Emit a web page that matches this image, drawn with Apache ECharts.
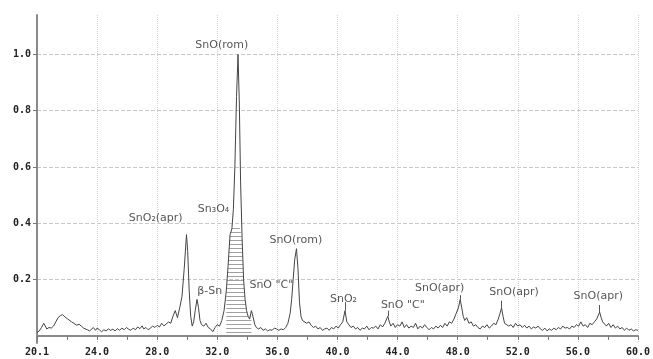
<!DOCTYPE html>
<html><head><meta charset="utf-8">
<script src="https://cdn.jsdelivr.net/npm/echarts@6/dist/echarts.min.js"></script>
<style>html,body{margin:0;padding:0;background:#fff}#c{width:653px;height:359px}</style>
</head><body><div id="c"></div>
<script>
// 2-theta (deg)
const twoTheta = [20.0,20.15,20.3,20.45,20.55,20.65,20.8,20.95,21.1,21.25,21.4,21.55,21.7,21.85,21.95,22.05,22.15,22.3,22.45,22.55,22.65,22.8,22.95,23.1,23.2,23.35,23.5,23.6,23.75,23.9,24.0,24.15,24.3,24.45,24.6,24.75,24.9,25.05,25.2,25.35,25.5,25.65,25.8,25.95,26.1,26.25,26.4,26.55,26.7,26.85,27.0,27.1,27.25,27.4,27.55,27.7,27.85,28.0,28.15,28.3,28.45,28.6,28.75,28.9,29.05,29.2,29.35,29.5,29.65,29.8,29.95,30.03,30.13,30.23,30.33,30.43,30.53,30.65,30.75,30.85,30.95,31.1,31.25,31.4,31.55,31.7,31.85,32.0,32.15,32.3,32.45,32.6,32.72,32.85,32.97,33.07,33.17,33.28,33.38,33.47,33.55,33.65,33.75,33.85,33.95,34.05,34.15,34.27,34.37,34.5,34.6,34.75,34.9,35.05,35.2,35.35,35.5,35.65,35.8,35.95,36.1,36.25,36.4,36.55,36.7,36.85,36.95,37.05,37.15,37.27,37.37,37.47,37.57,37.67,37.8,37.95,38.1,38.25,38.4,38.55,38.7,38.85,39.0,39.15,39.3,39.45,39.6,39.75,39.9,40.05,40.2,40.35,40.5,40.62,40.75,40.9,41.05,41.2,41.35,41.5,41.65,41.8,41.95,42.1,42.25,42.4,42.55,42.7,42.85,43.0,43.15,43.35,43.45,43.55,43.7,43.85,44.0,44.15,44.3,44.45,44.6,44.75,44.9,45.05,45.2,45.35,45.5,45.65,45.8,45.95,46.1,46.25,46.4,46.55,46.7,46.85,47.0,47.15,47.3,47.45,47.6,47.75,47.9,48.05,48.17,48.27,48.37,48.47,48.6,48.75,48.9,49.05,49.2,49.35,49.5,49.65,49.8,49.95,50.1,50.25,50.4,50.55,50.7,50.82,50.92,51.02,51.12,51.25,51.4,51.55,51.7,51.85,52.0,52.15,52.3,52.45,52.6,52.75,52.9,53.05,53.2,53.35,53.5,53.65,53.8,53.95,54.1,54.25,54.4,54.55,54.7,54.85,55.0,55.15,55.3,55.45,55.6,55.75,55.9,56.05,56.2,56.35,56.5,56.65,56.8,56.95,57.1,57.25,57.45,57.55,57.65,57.75,57.9,58.05,58.2,58.35,58.5,58.65,58.8,58.95,59.1,59.25,59.4,59.55,59.7,59.85,60.0];
// intensity (normalised)
const intensity = [0.012,0.018,0.03,0.045,0.04,0.025,0.03,0.028,0.035,0.05,0.065,0.072,0.076,0.068,0.072,0.06,0.064,0.05,0.045,0.052,0.038,0.042,0.035,0.028,0.035,0.022,0.018,0.025,0.03,0.02,0.028,0.022,0.015,0.022,0.018,0.025,0.02,0.024,0.018,0.026,0.02,0.028,0.022,0.03,0.024,0.02,0.028,0.022,0.032,0.026,0.036,0.025,0.03,0.022,0.028,0.035,0.03,0.038,0.032,0.045,0.036,0.042,0.05,0.045,0.07,0.09,0.065,0.1,0.14,0.24,0.36,0.3,0.16,0.07,0.035,0.05,0.09,0.13,0.1,0.055,0.04,0.035,0.045,0.03,0.025,0.015,0.03,0.04,0.035,0.055,0.09,0.16,0.25,0.36,0.38,0.45,0.6,0.85,1.0,0.82,0.55,0.35,0.2,0.13,0.09,0.07,0.06,0.09,0.07,0.04,0.03,0.025,0.03,0.02,0.025,0.018,0.022,0.02,0.028,0.025,0.02,0.025,0.022,0.03,0.045,0.08,0.13,0.2,0.27,0.31,0.24,0.12,0.07,0.055,0.06,0.045,0.05,0.038,0.03,0.035,0.025,0.03,0.02,0.025,0.028,0.02,0.03,0.025,0.035,0.028,0.04,0.05,0.09,0.05,0.045,0.03,0.035,0.025,0.03,0.02,0.028,0.025,0.035,0.022,0.03,0.028,0.035,0.025,0.04,0.032,0.045,0.07,0.05,0.035,0.045,0.03,0.04,0.035,0.05,0.03,0.04,0.028,0.035,0.03,0.045,0.025,0.035,0.028,0.04,0.03,0.022,0.03,0.025,0.035,0.028,0.038,0.03,0.045,0.035,0.05,0.045,0.06,0.08,0.1,0.13,0.1,0.07,0.055,0.065,0.045,0.05,0.035,0.04,0.03,0.025,0.035,0.03,0.04,0.028,0.035,0.045,0.04,0.06,0.08,0.1,0.07,0.045,0.05,0.035,0.04,0.03,0.045,0.035,0.04,0.03,0.038,0.028,0.035,0.025,0.032,0.028,0.035,0.025,0.02,0.028,0.018,0.025,0.02,0.028,0.022,0.03,0.025,0.035,0.028,0.03,0.025,0.035,0.03,0.04,0.035,0.05,0.035,0.04,0.03,0.045,0.04,0.05,0.06,0.085,0.065,0.05,0.055,0.035,0.045,0.03,0.04,0.028,0.035,0.025,0.03,0.02,0.028,0.02,0.025,0.018,0.022,0.02];
// hatched region under the main reflection
const hatchFrom = 32.6, hatchTo = 34.3, hatchTop = 0.39;
// x tick labels (every 4 deg)
const xTickValues = [20,24,28,32,36,40,44,48,52,56,60];
const xTickLabels = ['20.1','24.0','28.0','32.0','36.0','40.0','44.0','48.0','52.0','56.0','60.0'];
const yTickValues = [0.2,0.4,0.6,0.8,1.0];
const yTickLabels = ['0.2','0.4','0.6','0.8','1.0'];
// peak annotations
const annText = ['SnO(rom)','SnO₂(apr)','Sn₃O₄','β-Sn','SnO "C"','SnO(rom)','SnO₂','SnO "C"','SnO(apr)','SnO(apr)','SnO(apr)'];
const annX    = [32.3, 27.9, 31.75, 31.5, 35.6, 37.23, 40.4, 44.35, 46.8, 51.75, 57.36];
const annY    = [1.034, 0.42, 0.45, 0.16, 0.18, 0.34, 0.13, 0.11, 0.17, 0.155, 0.14];
// short peak marker lines [x, yFrom, yTo]
const markX  = [40.5, 43.35, 48.17, 50.92, 57.45];
const markY0 = [0.09, 0.07, 0.13, 0.10, 0.085];
const markY1 = [0.12, 0.09, 0.145, 0.125, 0.11];

const series = twoTheta.map((x,i)=>[x,intensity[i]]);
const hatchData = twoTheta.map((x,i)=>[x,intensity[i]]).filter(p=>p[0]>=hatchFrom && p[0]<=hatchTo).map(p=>[p[0],Math.min(p[1],hatchTop)]);

const pc = document.createElement('canvas'); pc.width=4; pc.height=4;
const g = pc.getContext('2d');
g.fillStyle='#a0a0a0'; g.fillRect(0,0,4,1);

const chart = echarts.init(document.getElementById('c'));
const lblFont = 'DejaVu Sans Mono';
chart.setOption({
  animation:false,
  grid:{left:37,right:9,top:15,bottom:16},
  xAxis:{type:'value',min:20,max:60,interval:4,
    axisLine:{lineStyle:{color:'#8a8a8a',width:2}},
    axisTick:{show:true,length:4,lineStyle:{color:'#777'}},
    minorTick:{show:true,splitNumber:2,length:4,lineStyle:{color:'#777'}},
    axisLabel:{margin:4,color:'#222',fontFamily:lblFont,fontWeight:'bold',fontSize:10,
      formatter:v=>{const k=xTickValues.indexOf(v);return k<0?'':xTickLabels[k];}},
    splitLine:{show:true,lineStyle:{color:'#d2d2d2',type:'dotted',width:1}}},
  yAxis:{type:'value',min:-0.025,max:1.14,
    axisLine:{show:true,lineStyle:{color:'#8a8a8a',width:2}},
    axisTick:{show:true,length:4,customValues:yTickValues,lineStyle:{color:'#777'}},
    axisLabel:{margin:6,color:'#222',fontFamily:lblFont,fontWeight:'bold',fontSize:10,customValues:yTickValues,
      formatter:v=>{const k=yTickValues.findIndex(t=>Math.abs(t-v)<1e-6);return k<0?'':yTickLabels[k];}},
    splitLine:{show:true,lineStyle:{color:'#c8c8c8',type:'dashed',width:1}}},
  series:[
    {type:'line',data:hatchData,symbol:'none',silent:true,lineStyle:{width:0},
      areaStyle:{color:{image:pc,repeat:'repeat'},opacity:1},z:1},
    {type:'line',data:series,symbol:'none',lineStyle:{color:'#444',width:1},z:2,
      markLine:{silent:true,symbol:'none',label:{show:false},lineStyle:{color:'#555',width:1,type:'solid'},
        data:markX.map((x,i)=>[{coord:[x,markY0[i]]},{coord:[x,markY1[i]]}])}},
    {type:'scatter',data:annX.map((x,i)=>[x,annY[i]]),symbolSize:0,silent:true,z:3,
      label:{show:true,position:'inside',color:'#2a2a2a',fontFamily:'DejaVu Sans',fontSize:11,
        formatter:p=>annText[p.dataIndex]}}
  ]
});
</script></body></html>
